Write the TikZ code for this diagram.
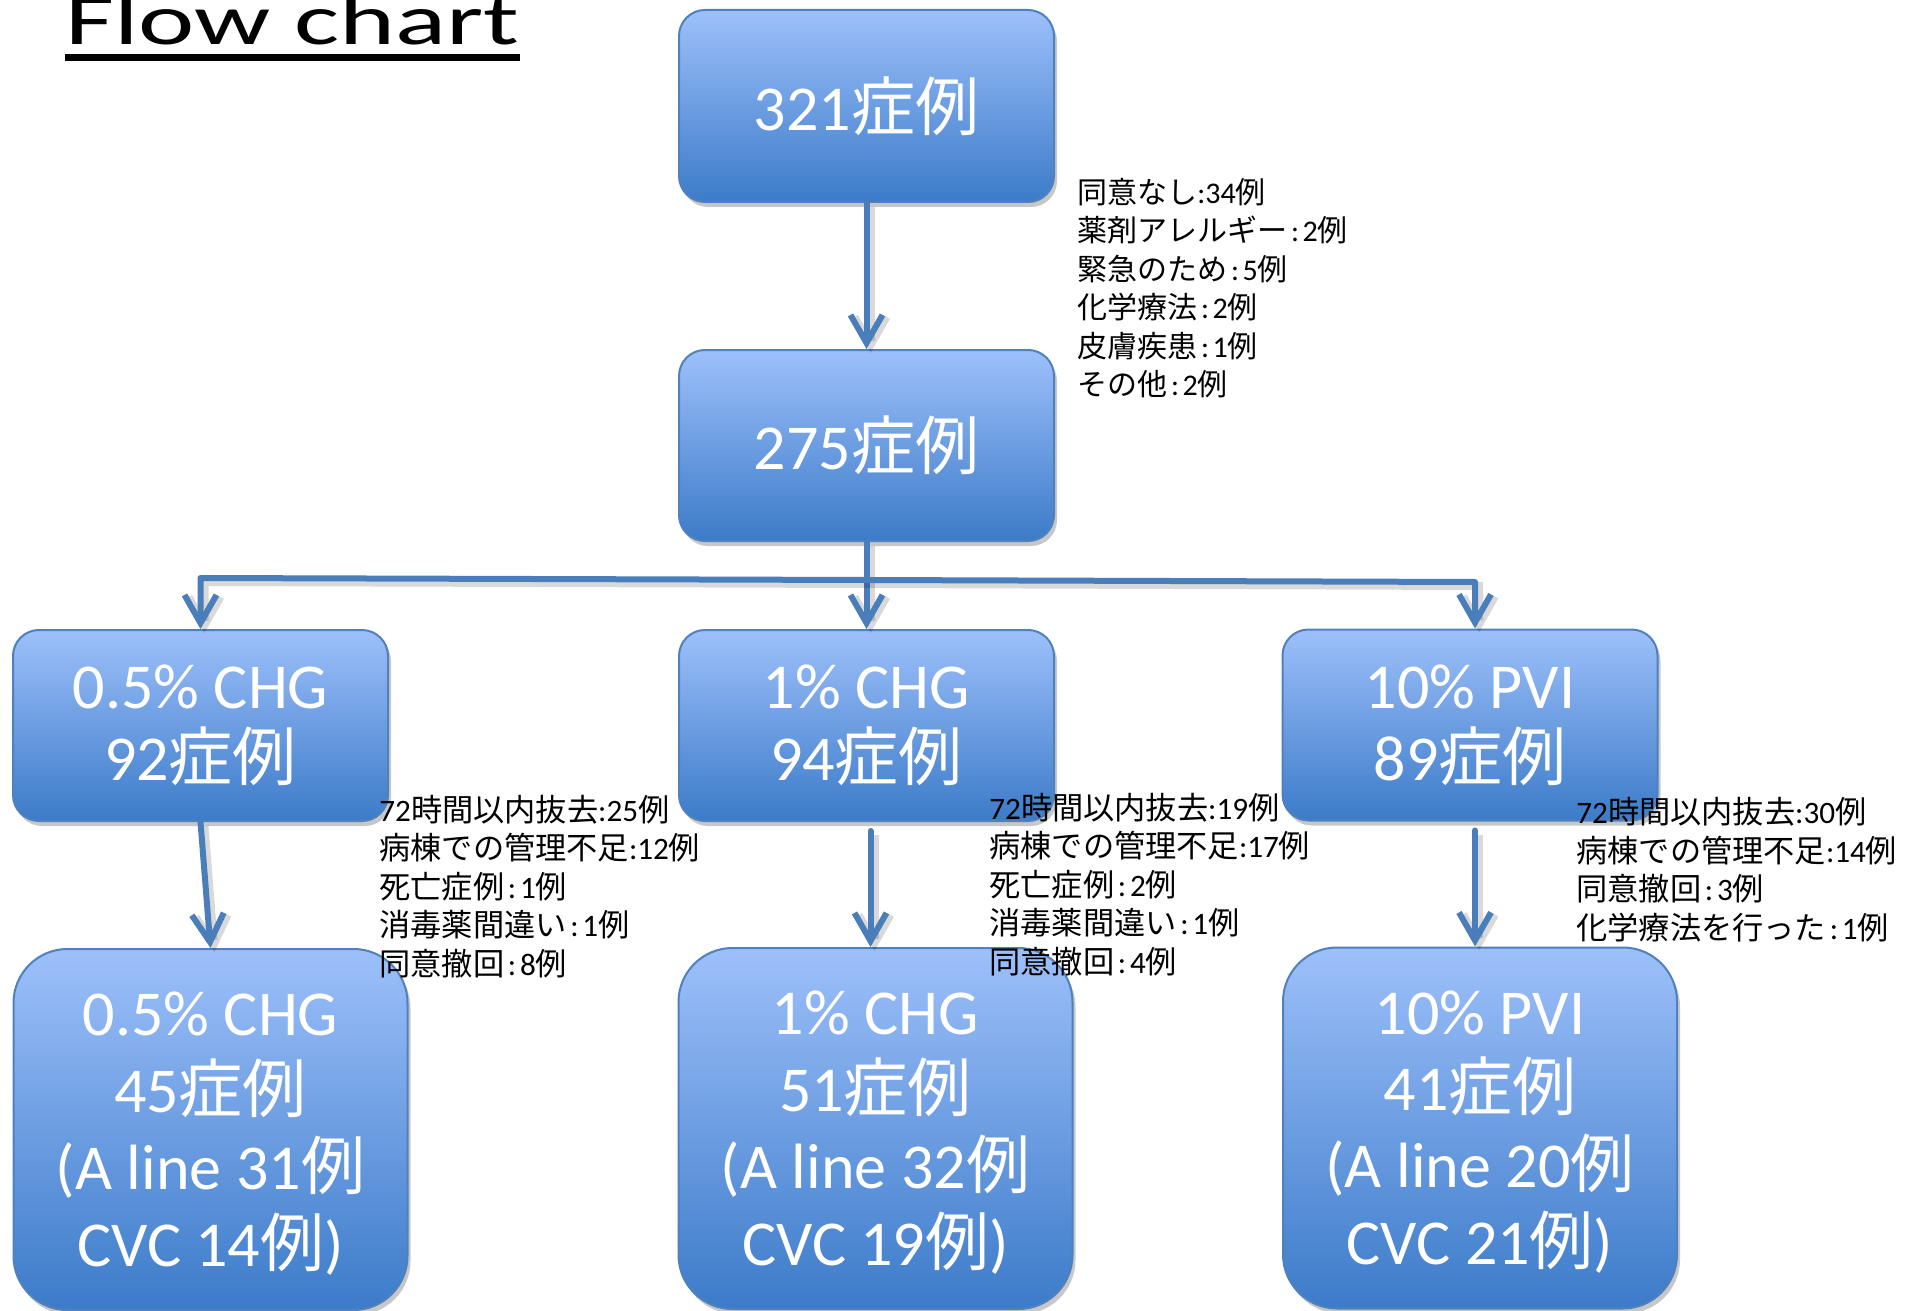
\documentclass[tikz,border=0pt]{standalone}
\usepackage{fontspec}
\usepackage{graphicx}
\setmainfont{Carlito}
\newfontfamily\cjkfont{Noto Sans CJK JP}
\newcommand\jtxt[1]{{\cjkfont #1}}
\newcommand\cln{\hspace{0.12em}:\hspace{0.12em}}
\usetikzlibrary{arrows.meta,shadows}
\definecolor{lineblue}{HTML}{4A7EBB}
\definecolor{boxtop}{HTML}{9DC0FA}
\definecolor{boxbot}{HTML}{3C7BC9}
\definecolor{boxedge}{HTML}{4F81BD}
\begin{document}
\begin{tikzpicture}[x=0.5pt,y=-0.5pt,
 box/.style={draw=boxedge, line width=1pt, rounded corners=13pt, top color=boxtop, bottom color=boxbot,
   text=white, align=center, inner sep=0pt, minimum width=187.5pt, minimum height=95.5pt,
   font=\fontsize{32}{36}\selectfont,
   drop shadow={shadow xshift=1.5pt, shadow yshift=-2.5pt, opacity=0.22, fill=black}},
 bigbox/.style={box, rounded corners=27pt, minimum width=197pt, minimum height=180.5pt},
 btext/.style={text=white, align=center, inner sep=0pt, font=\fontsize{32}{38.4}\selectfont},
 conn/.style={draw=lineblue, line width=3pt, line cap=round, line join=round,
   preaction={draw=black, opacity=0.15, line width=4pt, transform canvas={xshift=2pt,yshift=-2pt}}},
 arr/.style={-{Straight Barb[length=14pt,width=16pt]}},
 lab/.style={anchor=west, align=left, inner sep=0pt, text=black, font=\fontsize{15}{19.25}\selectfont},
 labb/.style={lab, font=\fontsize{15.6}{19.25}\selectfont}
]
\useasboundingbox[fill=white] (0,0) rectangle (1919,1311);

% title
\node[anchor=base west, inner sep=0pt, font=\fontsize{36}{40}\selectfont] (title) at (65,45) {\scalebox{1.48}[1]{Flow chart}};
\draw[line width=3.5pt] ([yshift=-6.25pt]title.base west) -- ([yshift=-6.25pt]title.base east);

% boxes
\node[box, minimum height=96pt] (b1) at (866.5,106) {321\jtxt{症例}};
\node[box] (b2) at (866.5,445.5) {275\jtxt{症例}};
\node[box] (b3a) at (200.5,725.5) {0.5\% CHG\\92\jtxt{症例}};
\node[box] (b3b) at (866.5,725.5) {1\% CHG\\94\jtxt{症例}};
\node[box] (b3c) at (1470,725) {10\% PVI\\89\jtxt{症例}};
\node[bigbox] (b4a) at (210.5,1129.5) {};
\node[bigbox] (b4b) at (875.5,1128.5) {};
\node[bigbox] (b4c) at (1480,1128) {};
\node[btext] (t4a) at ([yshift=-2pt]b4a.center) {0.5\% CHG\\45\jtxt{症例}\\(A line 31\jtxt{例}\\CVC 14\jtxt{例})};
\node[btext] (t4b) at ([yshift=-2pt]b4b.center) {1\% CHG\\51\jtxt{症例}\\(A line 32\jtxt{例}\\CVC 19\jtxt{例})};
\node[btext] (t4c) at ([yshift=-2pt]b4c.center) {10\% PVI\\41\jtxt{症例}\\(A line 20\jtxt{例}\\CVC 21\jtxt{例})};

% connectors
\coordinate (bus) at (866.5,580);
\coordinate (busL) at (200.5,578);
\coordinate (busR) at (1475,582);
\draw[conn,arr] (b1.south) -- (b2.north);
\draw[conn] (b2.south) -- (bus);
\draw[conn,arr] (bus) -- (b3b.north);
\draw[conn,arr] (bus) -- (busL) -- (b3a.north);
\draw[conn,arr] (bus) -- (busR) -- (busR |- b3c.north);
\draw[conn,arr] (b3a.south) -- (b4a.north);
\draw[conn,arr] ([xshift=2pt,yshift=-4.5pt]b3b.south) -- ([xshift=2pt]b3b.south |- b4b.north);
\draw[conn,arr] ([xshift=2.5pt,yshift=-4.5pt]b3c.south) -- ([xshift=2.5pt]b3c.south |- b4c.north);

% labels
\node[lab] (l1) at (1077,288) {\jtxt{同意なし}:34\jtxt{例}\\
\jtxt{薬剤アレルギー}\cln 2\jtxt{例}\\
\jtxt{緊急のため}\cln 5\jtxt{例}\\
\jtxt{化学療法}\cln 2\jtxt{例}\\
\jtxt{皮膚疾患}\cln 1\jtxt{例}\\
\jtxt{その他}\cln 2\jtxt{例}};
\node[labb] (l2) at (379,886.5) {72\jtxt{時間以内抜去}:25\jtxt{例}\\
\jtxt{病棟での管理不足}:12\jtxt{例}\\
\jtxt{死亡症例}\cln 1\jtxt{例}\\
\jtxt{消毒薬間違い}\cln 1\jtxt{例}\\
\jtxt{同意撤回}\cln 8\jtxt{例}};
\node[labb] (l3) at (989,884.5) {72\jtxt{時間以内抜去}:19\jtxt{例}\\
\jtxt{病棟での管理不足}:17\jtxt{例}\\
\jtxt{死亡症例}\cln 2\jtxt{例}\\
\jtxt{消毒薬間違い}\cln 1\jtxt{例}\\
\jtxt{同意撤回}\cln 4\jtxt{例}};
\node[labb] (l4) at (1576,869.5) {72\jtxt{時間以内抜去}:30\jtxt{例}\\
\jtxt{病棟での管理不足}:14\jtxt{例}\\
\jtxt{同意撤回}\cln 3\jtxt{例}\\
\jtxt{化学療法を行った}\cln 1\jtxt{例}};
\end{tikzpicture}
\end{document}
